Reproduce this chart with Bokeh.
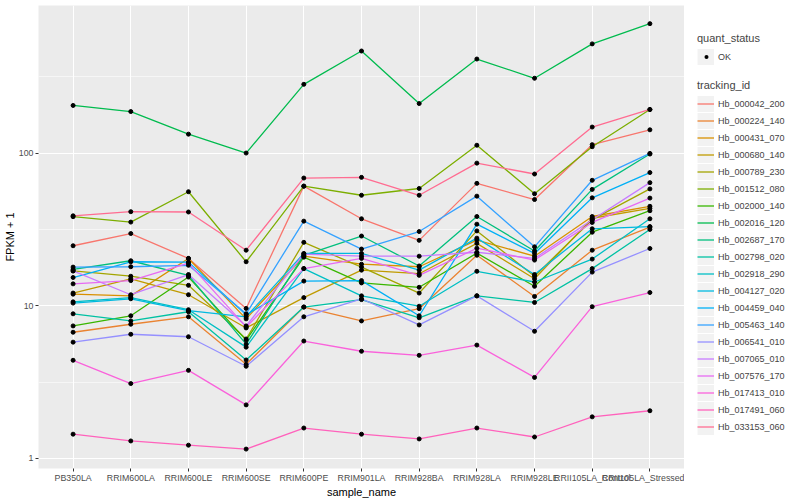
from bokeh.plotting import figure
from bokeh.layouts import row
from bokeh.models import (Range1d, FactorRange, FixedTicker, PrintfTickFormatter,
                          Legend, LegendItem)
from bokeh.embed import file_html
from bokeh.resources import INLINE

sample_names = ["PB350LA", "RRIM600LA", "RRIM600LE", "RRIM600SE", "RRIM600PE",
                "RRIM901LA", "RRIM928BA", "RRIM928LA", "RRIM928LE",
                "RRII105LA_Control", "RRII105LA_Stressed"]

tracking_ids = ["Hb_000042_200", "Hb_000224_140", "Hb_000431_070", "Hb_000680_140",
                "Hb_000789_230", "Hb_001512_080", "Hb_002000_140", "Hb_002016_120",
                "Hb_002687_170", "Hb_002798_020", "Hb_002918_290", "Hb_004127_020",
                "Hb_004459_040", "Hb_005463_140", "Hb_006541_010", "Hb_007065_010",
                "Hb_007576_170", "Hb_017413_010", "Hb_017491_060", "Hb_033153_060"]

# FPKM + 1 per sample
Hb_000042_200 = [24.7, 29.7, 20.4, 9.60, 60.7, 37.1, 26.8, 63.3, 49.6, 113.5, 142]
Hb_000224_140 = [6.70, 7.56, 8.46, 4.13, 9.80, 7.95, 9.56, 21.4, 11.5, 23.1, 32.7]
Hb_000431_070 = [11.9, 11.6, 20.4, 8.20, 21.1, 18.7, 18.0, 26.9, 21.1, 38.4, 44.8]
Hb_000680_140 = [12.1, 15.0, 11.8, 7.15, 11.3, 17.1, 16.2, 25.6, 15.0, 37.4, 43.4]
Hb_000789_230 = [16.9, 15.6, 13.6, 6.05, 26.0, 17.9, 12.1, 30.9, 15.6, 36.6, 58.2]
Hb_001512_080 = [38.3, 35.3, 55.8, 19.4, 60.7, 52.9, 58.6, 112.5, 54.1, 110, 192.7]
Hb_002000_140 = [7.37, 8.59, 15.4, 5.95, 20.8, 14.1, 13.2, 22.1, 13.4, 30.3, 41.9]
Hb_002016_120 = [205, 187, 133, 100, 282, 466, 211, 413, 309, 519, 704]
Hb_002687_170 = [17.3, 19.7, 15.8, 5.60, 21.4, 28.6, 18.2, 38.4, 22.8, 57.8, 98.5]
Hb_002798_020 = [8.85, 7.95, 9.13, 4.41, 9.80, 10.96, 8.33, 11.6, 10.5, 17.5, 31.6]
Hb_002918_290 = [10.6, 11.3, 9.41, 5.35, 17.5, 11.6, 9.92, 16.8, 14.3, 20.2, 37.1]
Hb_004127_020 = [10.4, 11.1, 9.27, 8.46, 22.0, 22.0, 17.1, 27.7, 16.0, 31.9, 33.0]
Hb_004459_040 = [15.3, 19.4, 19.3, 8.72, 14.5, 14.6, 8.59, 34.2, 22.0, 50.9, 74.5]
Hb_005463_140 = [17.9, 18.0, 18.4, 8.85, 35.8, 23.5, 30.6, 52.2, 24.3, 66.3, 99.5]
Hb_006541_010 = [5.77, 6.50, 6.26, 4.01, 8.46, 11.1, 7.48, 11.6, 6.80, 16.6, 23.7]
Hb_007065_010 = [16.9, 11.8, 16.0, 7.37, 21.8, 21.1, 21.1, 22.4, 20.4, 36.6, 64.0]
Hb_007576_170 = [13.9, 14.6, 19.0, 7.26, 17.5, 20.4, 15.8, 23.8, 19.9, 35.1, 50.7]
Hb_017413_010 = [4.39, 3.09, 3.77, 2.24, 5.87, 5.03, 4.73, 5.52, 3.39, 9.85, 12.2]
Hb_017491_060 = [1.44, 1.30, 1.22, 1.15, 1.58, 1.44, 1.34, 1.58, 1.38, 1.87, 2.05]
Hb_033153_060 = [38.8, 41.3, 41.1, 23.1, 68.6, 69.3, 52.9, 85.9, 72.9, 148, 193]

series_values = [Hb_000042_200, Hb_000224_140, Hb_000431_070, Hb_000680_140,
                 Hb_000789_230, Hb_001512_080, Hb_002000_140, Hb_002016_120,
                 Hb_002687_170, Hb_002798_020, Hb_002918_290, Hb_004127_020,
                 Hb_004459_040, Hb_005463_140, Hb_006541_010, Hb_007065_010,
                 Hb_007576_170, Hb_017413_010, Hb_017491_060, Hb_033153_060]

colors = ["#F8766D", "#EA8331", "#D89000", "#C09B00", "#A3A500", "#7CAE00", "#39B600",
          "#00BB4E", "#00BF7D", "#00C1A3", "#00BFC4", "#00BAE0", "#00B0F6", "#35A2FF",
          "#9590FF", "#C77CFF", "#E76BF3", "#FA62DB", "#FF62BC", "#FF6C91"]

quant_status = ["OK"]
y_ticks = [1, 10, 100]
y_minor = [3.1623, 31.623, 316.23]
FONT = "Liberation Sans"

p = figure(width=684, height=500,
           x_range=FactorRange(factors=sample_names, range_padding=0.1,
                               range_padding_units="absolute"),
           y_range=Range1d(0.858, 926.0), y_axis_type="log",
           output_backend="svg", toolbar_location=None,
           min_border_left=38, min_border_right=0, min_border_top=5,
           min_border_bottom=0)

p.background_fill_color = "#EBEBEB"
p.border_fill_color = "white"
p.outline_line_color = None

p.xaxis.axis_label = "sample_name"
p.yaxis.axis_label = "FPKM + 1"
p.yaxis.ticker = FixedTicker(ticks=y_ticks, minor_ticks=y_minor)
p.yaxis.formatter = PrintfTickFormatter(format="%d")

for ax in (p.xaxis[0], p.yaxis[0]):
    ax.axis_line_color = None
    ax.major_tick_line_color = "#333333"
    ax.major_tick_out = 3
    ax.major_tick_in = 0
    ax.minor_tick_line_color = None
    ax.major_label_text_color = "#4D4D4D"
    ax.major_label_text_font = FONT
    ax.major_label_text_font_size = "8.8px"
    ax.major_label_standoff = 1
    ax.axis_label_text_font = FONT
    ax.axis_label_text_font_size = "11px"
    ax.axis_label_text_font_style = "normal"
    ax.axis_label_text_color = "black"
    ax.axis_label_standoff = 0

p.xgrid.grid_line_color = "white"
p.xgrid.grid_line_width = 1.1
p.ygrid.grid_line_color = "white"
p.ygrid.grid_line_width = 1.1
p.ygrid.minor_grid_line_color = "white"
p.ygrid.minor_grid_line_width = 0.55

for vals, col in zip(series_values, colors):
    p.line(x=sample_names, y=vals, line_color=col, line_width=1.3)
for vals in series_values:
    p.scatter(x=sample_names, y=vals, size=4, color="black")

# ---- legend panel (separate white figure to the right) ----
# its y range (0..1) lies below every value, so its renderers stay out of view
lg = figure(width=116, height=500, x_range=FactorRange(factors=sample_names),
            y_range=Range1d(0, 1),
            output_backend="svg", toolbar_location=None,
            x_axis_location=None, y_axis_location=None,
            min_border_left=0, min_border_right=0, min_border_top=0,
            min_border_bottom=0)
lg.outline_line_color = None
lg.background_fill_color = "white"
lg.border_fill_color = "white"
lg.xgrid.visible = False
lg.ygrid.visible = False

key_bg = lg.line(x=sample_names, y=Hb_002016_120, line_color="#F2F2F2", line_width=16)
# single round dot centred in the key (zero-length dash with round cap)
ok_pt = lg.line(x=sample_names, y=Hb_002016_120, line_color="black", line_width=4,
                line_cap="round", line_dash="0 30", line_dash_offset=21)
key_lines = [lg.line(x=sample_names, y=vals, line_color=c, line_width=1.3)
             for vals, c in zip(series_values, colors)]

def style_legend(leg):
    leg.border_line_color = None
    leg.background_fill_alpha = 0
    leg.padding = 0
    leg.margin = 0
    leg.spacing = 0
    leg.glyph_width = 17
    leg.glyph_height = 17
    leg.label_height = 17
    leg.label_standoff = 4
    leg.label_text_font = FONT
    leg.label_text_font_size = "9px"
    leg.title_text_font = FONT
    leg.title_text_font_size = "11px"
    leg.title_text_font_style = "normal"
    leg.title_standoff = 4

leg1 = Legend(items=[LegendItem(label=s, renderers=[key_bg, ok_pt]) for s in quant_status],
              title="quant_status", location=(13, 403))
leg2 = Legend(items=[LegendItem(label=t, renderers=[key_bg, r])
                     for t, r in zip(tracking_ids, key_lines)],
              title="tracking_id", location=(13, 33))
style_legend(leg1)
style_legend(leg2)
lg.add_layout(leg1)
lg.add_layout(leg2)

layout = row(p, lg)
open("out.html", "w").write(file_html(layout, INLINE))
